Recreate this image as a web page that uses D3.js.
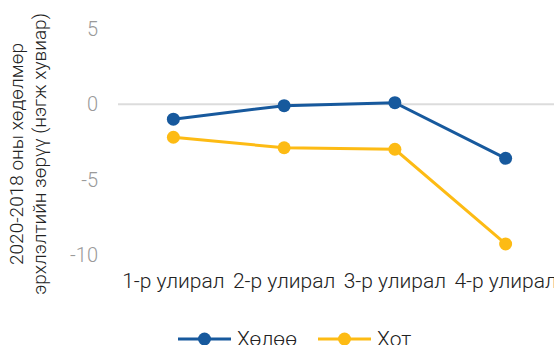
<!DOCTYPE html>
<html>
<head>
<meta charset="utf-8">
<script src="https://cdn.jsdelivr.net/npm/d3@7"></script>
<style>
  html, body { margin: 0; padding: 0; background: #fff; }
  svg { display: block; font-family: Roboto, "Noto Sans", sans-serif; }
</style>
</head>
<body>
<svg id="chart" width="554" height="345"></svg>
<script>
// Quarters and the change in employment, 2020 vs 2018 (percentage points)
const quarters = ["1-р улирал", "2-р улирал", "3-р улирал", "4-р улирал"];
const rural = [-1.0, -0.1, 0.1, -3.6];   // Хөлөө
const urban = [-2.2, -2.9, -3.0, -9.3];  // Хот
const yTicks = [5, 0, -5, -10];
const seriesNames = ["Хөлөө", "Хот"];
const titleLines = ["2020-2018 оны хөдөлмөр", "эрхлэлтийн зөрүү (нэгж хувиар)"];

const colors = ["#17599d", "#fdbb14"];
const series = [rural, urban];

const svg = d3.select("#chart");

const x = d3.scalePoint().domain(quarters).range([118, 561]).padding(0.5);
const y = d3.scaleLinear().domain([-10, 5]).range([254.5, 29]);

// zero reference line
svg.append("line")
  .attr("x1", 118).attr("x2", 561)
  .attr("y1", y(0)).attr("y2", y(0))
  .attr("stroke", "#dcdcdc").attr("stroke-width", 2);

// y tick labels
svg.append("g").selectAll("text").data(yTicks).join("text")
  .attr("x", 98).attr("y", d => y(d))
  .attr("dy", "0.36em")
  .attr("text-anchor", "end")
  .attr("font-size", 20).attr("font-weight", 300)
  .attr("fill", "#9a9a9a")
  .text(d => d);

// category labels
svg.append("g").selectAll("text").data(quarters).join("text")
  .attr("x", d => x(d)).attr("y", 288)
  .attr("text-anchor", "middle")
  .attr("font-size", 21).attr("font-weight", 300)
  .attr("fill", "#222")
  .text(d => d);

// y axis title
const title = svg.append("text")
  .attr("transform", "translate(0,154) rotate(-90)")
  .attr("text-anchor", "middle")
  .attr("font-size", 19).attr("font-weight", 300)
  .attr("fill", "#222");
titleLines.forEach((t, i) => {
  title.append("tspan").attr("x", 0).attr("y", 23 + i * 23).text(t);
});

// lines and markers
const line = d3.line().x((d, i) => x(quarters[i])).y(d => y(d));
series.forEach((vals, s) => {
  const g = svg.append("g");
  g.append("path").datum(vals)
    .attr("d", line)
    .attr("fill", "none")
    .attr("stroke", colors[s]).attr("stroke-width", 3);
  g.selectAll("circle").data(vals).join("circle")
    .attr("cx", (d, i) => x(quarters[i])).attr("cy", d => y(d))
    .attr("r", 6.5).attr("fill", colors[s]);
});

// legend
const legendX = [178, 318];
const legendY = 339;
seriesNames.forEach((name, s) => {
  const g = svg.append("g").attr("transform", `translate(${legendX[s]},${legendY})`);
  g.append("line").attr("x1", 0).attr("x2", 53).attr("y1", 0).attr("y2", 0)
    .attr("stroke", colors[s]).attr("stroke-width", 3);
  g.append("circle").attr("cx", 26.5).attr("cy", 0).attr("r", 6.5).attr("fill", colors[s]);
  g.append("text").attr("x", 59).attr("y", 7)
    .attr("font-size", 21).attr("font-weight", 300).attr("fill", "#222")
    .text(name);
});
</script>
</body>
</html>
